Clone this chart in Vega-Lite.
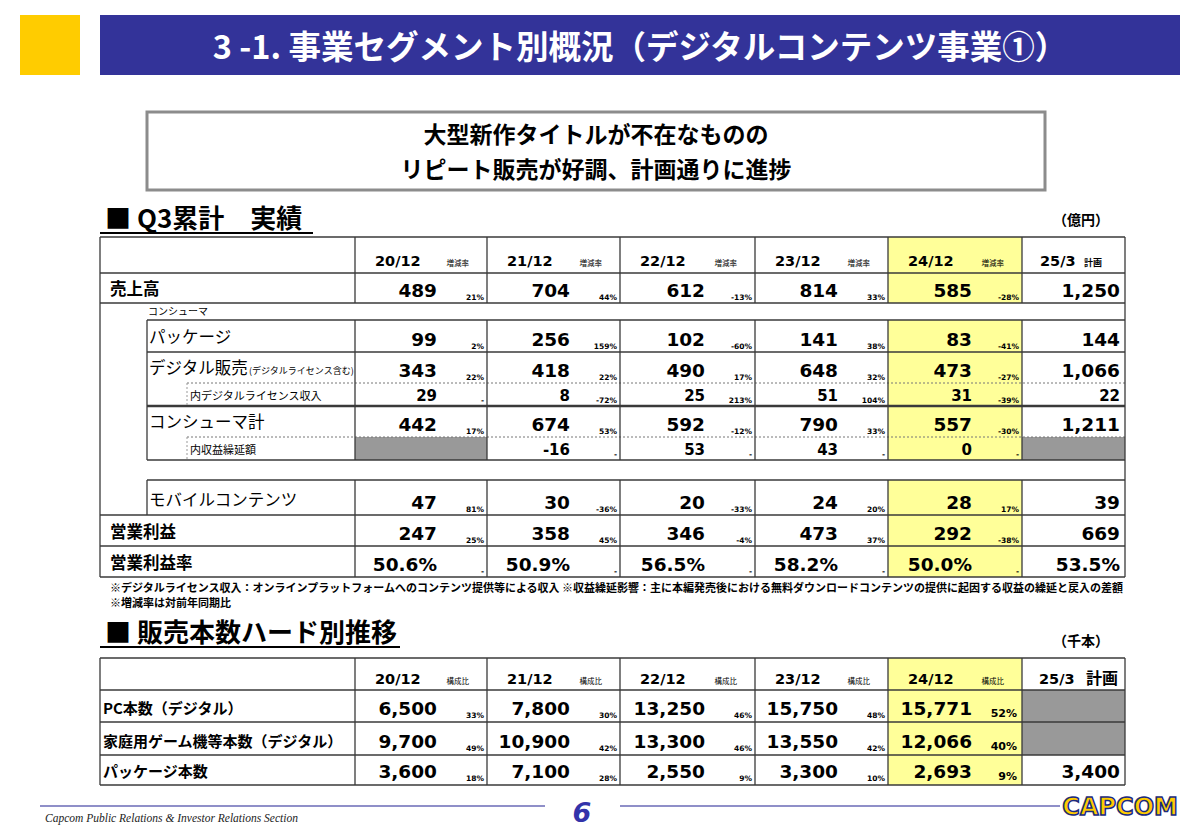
{
"$schema": "https://vega.github.io/schema/vega-lite/v6.json",
"width": 1200, "height": 831, "autosize": {"type": "none"}, "padding": 0,
"background": "white",
"config": {"view": {"stroke": null}, "locale": {"number": {"decimal": ".", "thousands": ",", "grouping": [3], "currency": ["$", ""], "minus": "-"}}},
"datasets": {
"cols": [
{"period": "20/12", "x0": 8, "x1": 10}, {"period": "21/12", "x0": 10, "x1": 12}, {"period": "22/12", "x0": 12, "x1": 13},
{"period": "23/12", "x0": 13, "x1": 14}, {"period": "24/12", "x0": 14, "x1": 15}, {"period": "25/3", "x0": 15, "x1": 18}],
"rows1": [
{"item": "売上高", "y0": 7, "y1": 8}, {"item": "コンシューマ", "y0": 8, "y1": 9}, {"item": "パッケージ", "y0": 9, "y1": 10},
{"item": "デジタル販売", "y0": 10, "y1": 11}, {"item": "内デジタルライセンス収入", "y0": 11, "y1": 12}, {"item": "コンシューマ計", "y0": 12, "y1": 13},
{"item": "内収益繰延額", "y0": 13, "y1": 14}, {"item": "モバイルコンテンツ", "y0": 15, "y1": 16}, {"item": "営業利益", "y0": 16, "y1": 17},
{"item": "営業利益率", "y0": 17, "y1": 18}],
"rows2": [
{"item": "PC本数（デジタル）", "y0": 21, "y1": 22}, {"item": "家庭用ゲーム機等本数（デジタル）", "y0": 22, "y1": 23}, {"item": "パッケージ本数", "y0": 23, "y1": 24}],
"vals1": [
{"item": "売上高", "period": "20/12", "value": 489, "chg": 0.21}, {"item": "売上高", "period": "21/12", "value": 704, "chg": 0.44},
{"item": "売上高", "period": "22/12", "value": 612, "chg": -0.13}, {"item": "売上高", "period": "23/12", "value": 814, "chg": 0.33},
{"item": "売上高", "period": "24/12", "value": 585, "chg": -0.28}, {"item": "売上高", "period": "25/3", "value": 1250},
{"item": "パッケージ", "period": "20/12", "value": 99, "chg": 0.02}, {"item": "パッケージ", "period": "21/12", "value": 256, "chg": 1.59},
{"item": "パッケージ", "period": "22/12", "value": 102, "chg": -0.60}, {"item": "パッケージ", "period": "23/12", "value": 141, "chg": 0.38},
{"item": "パッケージ", "period": "24/12", "value": 83, "chg": -0.41}, {"item": "パッケージ", "period": "25/3", "value": 144},
{"item": "デジタル販売", "period": "20/12", "value": 343, "chg": 0.22}, {"item": "デジタル販売", "period": "21/12", "value": 418, "chg": 0.22},
{"item": "デジタル販売", "period": "22/12", "value": 490, "chg": 0.17}, {"item": "デジタル販売", "period": "23/12", "value": 648, "chg": 0.32},
{"item": "デジタル販売", "period": "24/12", "value": 473, "chg": -0.27}, {"item": "デジタル販売", "period": "25/3", "value": 1066},
{"item": "内デジタルライセンス収入", "period": "20/12", "value": 29, "chg": null}, {"item": "内デジタルライセンス収入", "period": "21/12", "value": 8, "chg": -0.72},
{"item": "内デジタルライセンス収入", "period": "22/12", "value": 25, "chg": 2.13}, {"item": "内デジタルライセンス収入", "period": "23/12", "value": 51, "chg": 1.04},
{"item": "内デジタルライセンス収入", "period": "24/12", "value": 31, "chg": -0.39}, {"item": "内デジタルライセンス収入", "period": "25/3", "value": 22},
{"item": "コンシューマ計", "period": "20/12", "value": 442, "chg": 0.17}, {"item": "コンシューマ計", "period": "21/12", "value": 674, "chg": 0.53},
{"item": "コンシューマ計", "period": "22/12", "value": 592, "chg": -0.12}, {"item": "コンシューマ計", "period": "23/12", "value": 790, "chg": 0.33},
{"item": "コンシューマ計", "period": "24/12", "value": 557, "chg": -0.30}, {"item": "コンシューマ計", "period": "25/3", "value": 1211},
{"item": "内収益繰延額", "period": "21/12", "value": -16, "chg": null}, {"item": "内収益繰延額", "period": "22/12", "value": 53, "chg": null},
{"item": "内収益繰延額", "period": "23/12", "value": 43, "chg": null}, {"item": "内収益繰延額", "period": "24/12", "value": 0, "chg": null},
{"item": "モバイルコンテンツ", "period": "20/12", "value": 47, "chg": 0.81}, {"item": "モバイルコンテンツ", "period": "21/12", "value": 30, "chg": -0.36},
{"item": "モバイルコンテンツ", "period": "22/12", "value": 20, "chg": -0.33}, {"item": "モバイルコンテンツ", "period": "23/12", "value": 24, "chg": 0.20},
{"item": "モバイルコンテンツ", "period": "24/12", "value": 28, "chg": 0.17}, {"item": "モバイルコンテンツ", "period": "25/3", "value": 39},
{"item": "営業利益", "period": "20/12", "value": 247, "chg": 0.25}, {"item": "営業利益", "period": "21/12", "value": 358, "chg": 0.45},
{"item": "営業利益", "period": "22/12", "value": 346, "chg": -0.04}, {"item": "営業利益", "period": "23/12", "value": 473, "chg": 0.37},
{"item": "営業利益", "period": "24/12", "value": 292, "chg": -0.38}, {"item": "営業利益", "period": "25/3", "value": 669},
{"item": "営業利益率", "period": "20/12", "value": 0.506, "chg": null}, {"item": "営業利益率", "period": "21/12", "value": 0.509, "chg": null},
{"item": "営業利益率", "period": "22/12", "value": 0.565, "chg": null}, {"item": "営業利益率", "period": "23/12", "value": 0.582, "chg": null},
{"item": "営業利益率", "period": "24/12", "value": 0.500, "chg": null}, {"item": "営業利益率", "period": "25/3", "value": 0.535}],
"vals2": [
{"item": "PC本数（デジタル）", "period": "20/12", "value": 6500, "share": 0.33}, {"item": "PC本数（デジタル）", "period": "21/12", "value": 7800, "share": 0.30},
{"item": "PC本数（デジタル）", "period": "22/12", "value": 13250, "share": 0.46}, {"item": "PC本数（デジタル）", "period": "23/12", "value": 15750, "share": 0.48},
{"item": "PC本数（デジタル）", "period": "24/12", "value": 15771, "share": 0.52},
{"item": "家庭用ゲーム機等本数（デジタル）", "period": "20/12", "value": 9700, "share": 0.49}, {"item": "家庭用ゲーム機等本数（デジタル）", "period": "21/12", "value": 10900, "share": 0.42},
{"item": "家庭用ゲーム機等本数（デジタル）", "period": "22/12", "value": 13300, "share": 0.46}, {"item": "家庭用ゲーム機等本数（デジタル）", "period": "23/12", "value": 13550, "share": 0.42},
{"item": "家庭用ゲーム機等本数（デジタル）", "period": "24/12", "value": 12066, "share": 0.40},
{"item": "パッケージ本数", "period": "20/12", "value": 3600, "share": 0.18}, {"item": "パッケージ本数", "period": "21/12", "value": 7100, "share": 0.28},
{"item": "パッケージ本数", "period": "22/12", "value": 2550, "share": 0.09}, {"item": "パッケージ本数", "period": "23/12", "value": 3300, "share": 0.10},
{"item": "パッケージ本数", "period": "24/12", "value": 2693, "share": 0.09}, {"item": "パッケージ本数", "period": "25/3", "value": 3400}],
"hthin": [
{"x0": 4, "x1": 18, "y": 6}, {"x0": 4, "x1": 18, "y": 7}, {"x0": 4, "x1": 18, "y": 8}, {"x0": 5, "x1": 18, "y": 9}, {"x0": 5, "x1": 18, "y": 10},
{"x0": 5, "x1": 18, "y": 14}, {"x0": 5, "x1": 18, "y": 15}, {"x0": 4, "x1": 18, "y": 16}, {"x0": 4, "x1": 18, "y": 17}, {"x0": 4, "x1": 18, "y": 18},
{"x0": 4, "x1": 18, "y": 20}, {"x0": 4, "x1": 18, "y": 21}, {"x0": 4, "x1": 18, "y": 22}, {"x0": 4, "x1": 18, "y": 23}, {"x0": 4, "x1": 18, "y": 24}],
"vthin": [
{"x": 4, "y0": 6, "y1": 18}, {"x": 18, "y0": 6, "y1": 18}, {"x": 5, "y0": 9, "y1": 14}, {"x": 5, "y0": 15, "y1": 16},
{"x": 8, "y0": 6, "y1": 8}, {"x": 10, "y0": 6, "y1": 8}, {"x": 12, "y0": 6, "y1": 8}, {"x": 13, "y0": 6, "y1": 8}, {"x": 14, "y0": 6, "y1": 8}, {"x": 15, "y0": 6, "y1": 8},
{"x": 8, "y0": 9, "y1": 14}, {"x": 10, "y0": 9, "y1": 14}, {"x": 12, "y0": 9, "y1": 14}, {"x": 13, "y0": 9, "y1": 14}, {"x": 14, "y0": 9, "y1": 14}, {"x": 15, "y0": 9, "y1": 14},
{"x": 8, "y0": 15, "y1": 18}, {"x": 10, "y0": 15, "y1": 18}, {"x": 12, "y0": 15, "y1": 18}, {"x": 13, "y0": 15, "y1": 18}, {"x": 14, "y0": 15, "y1": 18}, {"x": 15, "y0": 15, "y1": 18},
{"x": 4, "y0": 20, "y1": 24}, {"x": 8, "y0": 20, "y1": 24}, {"x": 10, "y0": 20, "y1": 24}, {"x": 12, "y0": 20, "y1": 24}, {"x": 13, "y0": 20, "y1": 24},
{"x": 14, "y0": 20, "y1": 24}, {"x": 15, "y0": 20, "y1": 24}, {"x": 18, "y0": 20, "y1": 24}]
},
"layer": [
{"data": {"values": [{"x0": 1, "x1": 3, "y0": 1, "y1": 2}]}, "mark": {"type": "rect", "fill": "#FFCC00"},
 "encoding": {"x": {"field": "x0", "type": "quantitative", "scale": {"type": "linear", "domain": [0,1,2,3,4,5,6,7,8,9,10,11,12,13,14,15,16,17,18,19,20], "range": [0,20,40,80,100,147,187,313,355,400,487,545,620,755,888,1022,1045,1060,1125,1180,1200], "zero": false, "nice": false}, "axis": null},
  "x2": {"field": "x1"},
  "y": {"field": "y0", "type": "quantitative", "scale": {"type": "linear", "domain": [0,1,2,3,4,5,6,7,8,9,10,11,12,13,14,15,16,17,18,19,20,21,22,23,24,25,26], "range": [0,15,75,112,190,233,237,273,303,320,352,383,406,437,460,480,515,546,577,647,658,690,722,755,785,806,831], "zero": false, "nice": false}, "axis": null},
  "y2": {"field": "y1"}}},
{"data": {"values": [{"x0": 4, "x1": 19, "y0": 1, "y1": 2}]}, "mark": {"type": "rect", "fill": "#333399"},
 "encoding": {"x": {"field": "x0", "type": "quantitative"}, "x2": {"field": "x1"}, "y": {"field": "y0", "type": "quantitative"}, "y2": {"field": "y1"}}},
{"data": {"values": [{"t": "3 -1.  事業セグメント別概況（デジタルコンテンツ事業①）", "x": 12, "y": 2}]},
 "mark": {"type": "text", "font": "Noto Sans CJK JP", "fontWeight": "bold", "fontSize": 32.5, "color": "white", "align": "center", "baseline": "alphabetic", "dx": 20, "dy": -16},
 "encoding": {"x": {"field": "x", "type": "quantitative"}, "y": {"field": "y", "type": "quantitative"}, "text": {"field": "t"}}},
{"data": {"values": [{"x0": 5, "x1": 16, "y0": 3, "y1": 4}]}, "mark": {"type": "rect", "fill": "white", "stroke": "#8c8c8c", "strokeWidth": 3},
 "encoding": {"x": {"field": "x0", "type": "quantitative"}, "x2": {"field": "x1"}, "y": {"field": "y0", "type": "quantitative"}, "y2": {"field": "y1"}}},
{"data": {"values": [{"t": "大型新作タイトルが不在なものの", "x": 12, "y": 3}]},
 "mark": {"type": "text", "font": "Noto Sans CJK JP", "fontWeight": "bold", "fontSize": 23, "color": "black", "align": "center", "baseline": "alphabetic", "dx": -24, "dy": 31},
 "encoding": {"x": {"field": "x", "type": "quantitative"}, "y": {"field": "y", "type": "quantitative"}, "text": {"field": "t"}}},
{"data": {"values": [{"t": "リピート販売が好調、計画通りに進捗", "x": 12, "y": 4}]},
 "mark": {"type": "text", "font": "Noto Sans CJK JP", "fontWeight": "bold", "fontSize": 23, "color": "black", "align": "center", "baseline": "alphabetic", "dx": -24, "dy": -12},
 "encoding": {"x": {"field": "x", "type": "quantitative"}, "y": {"field": "y", "type": "quantitative"}, "text": {"field": "t"}}},
{"data": {"values": [{"t": "■ Q3累計　実績", "x": 4, "y": 5}]},
 "mark": {"type": "text", "font": "Noto Sans CJK JP", "fontWeight": "bold", "fontSize": 26, "color": "black", "align": "left", "baseline": "alphabetic", "dx": 5, "dy": -5},
 "encoding": {"x": {"field": "x", "type": "quantitative"}, "y": {"field": "y", "type": "quantitative"}, "text": {"field": "t"}}},
{"data": {"values": [{"x0": 4, "x1": 7, "y": 5}, {"x0": 4, "x1": 9, "y": 19}]}, "mark": {"type": "rule", "color": "black", "strokeWidth": 2},
 "encoding": {"x": {"field": "x0", "type": "quantitative"}, "x2": {"field": "x1"}, "y": {"field": "y", "type": "quantitative"}}},
{"data": {"values": [{"t": "（億円）", "x": 18, "y": 6}, {"t": "（千本）", "x": 18, "y": 20}]},
 "mark": {"type": "text", "font": "Noto Sans CJK JP", "fontWeight": "bold", "fontSize": 14, "color": "black", "align": "right", "baseline": "alphabetic", "dx": -16, "dy": -12},
 "encoding": {"x": {"field": "x", "type": "quantitative"}, "y": {"field": "y", "type": "quantitative"}, "text": {"field": "t"}}},
{"data": {"values": [{"x0": 14, "x1": 15, "y0": 6, "y1": 8}, {"x0": 14, "x1": 15, "y0": 9, "y1": 14}, {"x0": 14, "x1": 15, "y0": 15, "y1": 18}, {"x0": 14, "x1": 15, "y0": 20, "y1": 24}]},
 "mark": {"type": "rect", "fill": "#FFFF99"},
 "encoding": {"x": {"field": "x0", "type": "quantitative"}, "x2": {"field": "x1"}, "y": {"field": "y0", "type": "quantitative"}, "y2": {"field": "y1"}}},
{"data": {"values": [{"x0": 8, "x1": 10, "y0": 13, "y1": 14}, {"x0": 15, "x1": 18, "y0": 13, "y1": 14}, {"x0": 15, "x1": 18, "y0": 21, "y1": 23}]},
 "mark": {"type": "rect", "fill": "#999999"},
 "encoding": {"x": {"field": "x0", "type": "quantitative"}, "x2": {"field": "x1"}, "y": {"field": "y0", "type": "quantitative"}, "y2": {"field": "y1"}}},
{"data": {"name": "hthin"}, "mark": {"type": "rule", "color": "#3a3a3a", "strokeWidth": 1.3},
 "encoding": {"x": {"field": "x0", "type": "quantitative"}, "x2": {"field": "x1"}, "y": {"field": "y", "type": "quantitative"}}},
{"data": {"values": [{"x0": 5, "x1": 18, "y": 12}]}, "mark": {"type": "rule", "color": "#3a3a3a", "strokeWidth": 2.6},
 "encoding": {"x": {"field": "x0", "type": "quantitative"}, "x2": {"field": "x1"}, "y": {"field": "y", "type": "quantitative"}}},
{"data": {"values": [{"x0": 6, "x1": 18, "y": 11}, {"x0": 6, "x1": 18, "y": 13}]}, "mark": {"type": "rule", "color": "#777777", "strokeWidth": 1, "strokeDash": [2, 2]},
 "encoding": {"x": {"field": "x0", "type": "quantitative"}, "x2": {"field": "x1"}, "y": {"field": "y", "type": "quantitative"}}},
{"data": {"name": "vthin"}, "mark": {"type": "rule", "color": "#3a3a3a", "strokeWidth": 1.3},
 "encoding": {"x": {"field": "x", "type": "quantitative"}, "y": {"field": "y0", "type": "quantitative"}, "y2": {"field": "y1"}}},
{"data": {"values": [{"x": 6, "y0": 11, "y1": 12}, {"x": 6, "y0": 13, "y1": 14}]}, "mark": {"type": "rule", "color": "#999999", "strokeWidth": 1, "strokeDash": [2, 2]},
 "encoding": {"x": {"field": "x", "type": "quantitative"}, "y": {"field": "y0", "type": "quantitative"}, "y2": {"field": "y1"}}},

{"data": {"name": "cols"}, "transform": [{"filter": "datum.period != '25/3'"}],
 "mark": {"type": "text", "font": "DejaVu Sans", "fontWeight": "bold", "fontSize": 14.5, "color": "black", "align": "left", "baseline": "alphabetic", "dx": 20, "dy": -7},
 "encoding": {"x": {"field": "x0", "type": "quantitative"}, "y": {"datum": 7, "type": "quantitative"}, "text": {"field": "period"}}},
{"data": {"name": "cols"}, "transform": [{"filter": "datum.period != '25/3'"}],
 "mark": {"type": "text", "font": "DejaVu Sans", "fontWeight": "bold", "fontSize": 14.5, "color": "black", "align": "left", "baseline": "alphabetic", "dx": 20, "dy": -6},
 "encoding": {"x": {"field": "x0", "type": "quantitative"}, "y": {"datum": 21, "type": "quantitative"}, "text": {"field": "period"}}},
{"data": {"name": "cols"}, "transform": [{"filter": "datum.period != '25/3'"}],
 "mark": {"type": "text", "font": "Noto Sans CJK JP", "fontSize": 7.5, "color": "black", "align": "right", "baseline": "alphabetic", "dx": -18, "dy": -7},
 "encoding": {"x": {"field": "x1", "type": "quantitative"}, "y": {"datum": 7, "type": "quantitative"}, "text": {"value": "増減率"}}},
{"data": {"name": "cols"}, "transform": [{"filter": "datum.period != '25/3'"}],
 "mark": {"type": "text", "font": "Noto Sans CJK JP", "fontSize": 7.5, "color": "black", "align": "right", "baseline": "alphabetic", "dx": -18, "dy": -6},
 "encoding": {"x": {"field": "x1", "type": "quantitative"}, "y": {"datum": 21, "type": "quantitative"}, "text": {"value": "構成比"}}},
{"data": {"name": "cols"}, "transform": [{"filter": "datum.period == '25/3'"}],
 "mark": {"type": "text", "font": "DejaVu Sans", "fontWeight": "bold", "fontSize": 14.5, "color": "black", "align": "left", "baseline": "alphabetic", "dx": 18, "dy": -7},
 "encoding": {"x": {"field": "x0", "type": "quantitative"}, "y": {"datum": 7, "type": "quantitative"}, "text": {"field": "period"}}},
{"data": {"name": "cols"}, "transform": [{"filter": "datum.period == '25/3'"}],
 "mark": {"type": "text", "font": "Noto Sans CJK JP", "fontWeight": "bold", "fontSize": 9, "color": "black", "align": "left", "baseline": "alphabetic", "dx": 62, "dy": -7},
 "encoding": {"x": {"field": "x0", "type": "quantitative"}, "y": {"datum": 7, "type": "quantitative"}, "text": {"value": "計画"}}},
{"data": {"name": "cols"}, "transform": [{"filter": "datum.period == '25/3'"}],
 "mark": {"type": "text", "font": "DejaVu Sans", "fontWeight": "bold", "fontSize": 14.5, "color": "black", "align": "left", "baseline": "alphabetic", "dx": 17, "dy": -6},
 "encoding": {"x": {"field": "x0", "type": "quantitative"}, "y": {"datum": 21, "type": "quantitative"}, "text": {"field": "period"}}},
{"data": {"name": "cols"}, "transform": [{"filter": "datum.period == '25/3'"}],
 "mark": {"type": "text", "font": "Noto Sans CJK JP", "fontWeight": "bold", "fontSize": 16, "color": "black", "align": "left", "baseline": "alphabetic", "dx": 64, "dy": -6},
 "encoding": {"x": {"field": "x0", "type": "quantitative"}, "y": {"datum": 21, "type": "quantitative"}, "text": {"value": "計画"}}},

{"data": {"name": "rows1"}, "transform": [{"filter": {"field": "item", "oneOf": ["売上高", "営業利益", "営業利益率"]}}],
 "mark": {"type": "text", "font": "Noto Sans CJK JP", "fontWeight": "bold", "fontSize": 16.5, "color": "black", "align": "left", "baseline": "alphabetic", "dx": 10, "dy": -8},
 "encoding": {"x": {"datum": 4, "type": "quantitative"}, "y": {"field": "y1", "type": "quantitative"}, "text": {"field": "item"}}},
{"data": {"name": "rows1"}, "transform": [{"filter": {"field": "item", "oneOf": ["コンシューマ"]}}],
 "mark": {"type": "text", "font": "Noto Sans CJK JP", "fontSize": 10, "color": "black", "align": "left", "baseline": "alphabetic", "dx": 1, "dy": -5},
 "encoding": {"x": {"datum": 5, "type": "quantitative"}, "y": {"field": "y1", "type": "quantitative"}, "text": {"field": "item"}}},
{"data": {"name": "rows1"}, "transform": [{"filter": {"field": "item", "oneOf": ["パッケージ", "デジタル販売", "コンシューマ計", "モバイルコンテンツ"]}}],
 "mark": {"type": "text", "font": "Noto Sans CJK JP", "fontSize": 16.5, "color": "black", "align": "left", "baseline": "alphabetic", "dx": 2, "dy": -9},
 "encoding": {"x": {"datum": 5, "type": "quantitative"}, "y": {"field": "y1", "type": "quantitative"}, "text": {"field": "item"}}},
{"data": {"name": "rows1"}, "transform": [{"filter": {"field": "item", "oneOf": ["デジタル販売"]}}],
 "mark": {"type": "text", "font": "Noto Sans CJK JP", "fontSize": 9, "color": "black", "align": "left", "baseline": "alphabetic", "dx": 102, "dy": -9},
 "encoding": {"x": {"datum": 5, "type": "quantitative"}, "y": {"field": "y1", "type": "quantitative"}, "text": {"value": "(デジタルライセンス含む)"}}},
{"data": {"name": "rows1"}, "transform": [{"filter": {"field": "item", "oneOf": ["内デジタルライセンス収入", "内収益繰延額"]}}],
 "mark": {"type": "text", "font": "Noto Sans CJK JP", "fontSize": 11, "color": "black", "align": "left", "baseline": "alphabetic", "dx": 3, "dy": -6},
 "encoding": {"x": {"datum": 6, "type": "quantitative"}, "y": {"field": "y1", "type": "quantitative"}, "text": {"field": "item"}}},
{"data": {"name": "rows2"},
 "mark": {"type": "text", "font": "Noto Sans CJK JP", "fontWeight": "bold", "fontSize": 15, "color": "black", "align": "left", "baseline": "alphabetic", "dx": 3, "dy": -8},
 "encoding": {"x": {"datum": 4, "type": "quantitative"}, "y": {"field": "y1", "type": "quantitative"}, "text": {"field": "item"}}},

{"data": {"name": "vals1"},
 "transform": [{"lookup": "item", "from": {"data": {"name": "rows1"}, "key": "item", "fields": ["y1"]}}, {"lookup": "period", "from": {"data": {"name": "cols"}, "key": "period", "fields": ["x1"]}},
  {"filter": "datum.period != '25/3'"}, {"filter": {"not": {"field": "item", "oneOf": ["内デジタルライセンス収入", "内収益繰延額", "営業利益率"]}}}],
 "mark": {"type": "text", "font": "DejaVu Sans", "fontWeight": "bold", "fontSize": 18.5, "color": "black", "align": "right", "baseline": "alphabetic", "dx": -50, "dy": -6},
 "encoding": {"x": {"field": "x1", "type": "quantitative"}, "y": {"field": "y1", "type": "quantitative"}, "text": {"field": "value", "type": "quantitative", "format": ","}}},
{"data": {"name": "vals1"},
 "transform": [{"lookup": "item", "from": {"data": {"name": "rows1"}, "key": "item", "fields": ["y1"]}}, {"lookup": "period", "from": {"data": {"name": "cols"}, "key": "period", "fields": ["x1"]}},
  {"filter": "datum.period == '25/3'"}, {"filter": {"not": {"field": "item", "oneOf": ["内デジタルライセンス収入", "内収益繰延額", "営業利益率"]}}}],
 "mark": {"type": "text", "font": "DejaVu Sans", "fontWeight": "bold", "fontSize": 18.5, "color": "black", "align": "right", "baseline": "alphabetic", "dx": -5, "dy": -6},
 "encoding": {"x": {"field": "x1", "type": "quantitative"}, "y": {"field": "y1", "type": "quantitative"}, "text": {"field": "value", "type": "quantitative", "format": ","}}},
{"data": {"name": "vals1"},
 "transform": [{"lookup": "item", "from": {"data": {"name": "rows1"}, "key": "item", "fields": ["y1"]}}, {"lookup": "period", "from": {"data": {"name": "cols"}, "key": "period", "fields": ["x1"]}},
  {"filter": "datum.period != '25/3'"}, {"filter": {"field": "item", "oneOf": ["内デジタルライセンス収入", "内収益繰延額"]}}],
 "mark": {"type": "text", "font": "DejaVu Sans", "fontWeight": "bold", "fontSize": 15, "color": "black", "align": "right", "baseline": "alphabetic", "dx": -50, "dy": -5},
 "encoding": {"x": {"field": "x1", "type": "quantitative"}, "y": {"field": "y1", "type": "quantitative"}, "text": {"field": "value", "type": "quantitative", "format": ","}}},
{"data": {"name": "vals1"},
 "transform": [{"lookup": "item", "from": {"data": {"name": "rows1"}, "key": "item", "fields": ["y1"]}}, {"lookup": "period", "from": {"data": {"name": "cols"}, "key": "period", "fields": ["x1"]}},
  {"filter": "datum.period == '25/3'"}, {"filter": {"field": "item", "oneOf": ["内デジタルライセンス収入", "内収益繰延額"]}}],
 "mark": {"type": "text", "font": "DejaVu Sans", "fontWeight": "bold", "fontSize": 15, "color": "black", "align": "right", "baseline": "alphabetic", "dx": -5, "dy": -5},
 "encoding": {"x": {"field": "x1", "type": "quantitative"}, "y": {"field": "y1", "type": "quantitative"}, "text": {"field": "value", "type": "quantitative", "format": ","}}},
{"data": {"name": "vals1"},
 "transform": [{"lookup": "item", "from": {"data": {"name": "rows1"}, "key": "item", "fields": ["y1"]}}, {"lookup": "period", "from": {"data": {"name": "cols"}, "key": "period", "fields": ["x1"]}},
  {"filter": "datum.period != '25/3'"}, {"filter": {"field": "item", "equal": "営業利益率"}}],
 "mark": {"type": "text", "font": "DejaVu Sans", "fontWeight": "bold", "fontSize": 18.5, "color": "black", "align": "right", "baseline": "alphabetic", "dx": -50, "dy": -6},
 "encoding": {"x": {"field": "x1", "type": "quantitative"}, "y": {"field": "y1", "type": "quantitative"}, "text": {"field": "value", "type": "quantitative", "format": ".1%"}}},
{"data": {"name": "vals1"},
 "transform": [{"lookup": "item", "from": {"data": {"name": "rows1"}, "key": "item", "fields": ["y1"]}}, {"lookup": "period", "from": {"data": {"name": "cols"}, "key": "period", "fields": ["x1"]}},
  {"filter": "datum.period == '25/3'"}, {"filter": {"field": "item", "equal": "営業利益率"}}],
 "mark": {"type": "text", "font": "DejaVu Sans", "fontWeight": "bold", "fontSize": 18.5, "color": "black", "align": "right", "baseline": "alphabetic", "dx": -5, "dy": -6},
 "encoding": {"x": {"field": "x1", "type": "quantitative"}, "y": {"field": "y1", "type": "quantitative"}, "text": {"field": "value", "type": "quantitative", "format": ".1%"}}},
{"data": {"name": "vals1"},
 "transform": [{"lookup": "item", "from": {"data": {"name": "rows1"}, "key": "item", "fields": ["y1"]}}, {"lookup": "period", "from": {"data": {"name": "cols"}, "key": "period", "fields": ["x1"]}},
  {"filter": "datum.period != '25/3'"}],
 "mark": {"type": "text", "font": "DejaVu Sans", "fontWeight": "bold", "fontSize": 7.5, "color": "black", "align": "right", "baseline": "alphabetic", "dx": -3, "dy": -3},
 "encoding": {"x": {"field": "x1", "type": "quantitative"}, "y": {"field": "y1", "type": "quantitative"},
  "text": {"condition": {"test": "datum.chg == null", "value": "-"}, "field": "chg", "type": "quantitative", "format": ".0%"}}},

{"data": {"name": "vals2"},
 "transform": [{"lookup": "item", "from": {"data": {"name": "rows2"}, "key": "item", "fields": ["y1"]}}, {"lookup": "period", "from": {"data": {"name": "cols"}, "key": "period", "fields": ["x1"]}},
  {"filter": "datum.period != '25/3'"}],
 "mark": {"type": "text", "font": "DejaVu Sans", "fontWeight": "bold", "fontSize": 18.5, "color": "black", "align": "right", "baseline": "alphabetic", "dx": -50, "dy": -7},
 "encoding": {"x": {"field": "x1", "type": "quantitative"}, "y": {"field": "y1", "type": "quantitative"}, "text": {"field": "value", "type": "quantitative", "format": ","}}},
{"data": {"name": "vals2"},
 "transform": [{"lookup": "item", "from": {"data": {"name": "rows2"}, "key": "item", "fields": ["y1"]}}, {"lookup": "period", "from": {"data": {"name": "cols"}, "key": "period", "fields": ["x1"]}},
  {"filter": "datum.period == '25/3'"}],
 "mark": {"type": "text", "font": "DejaVu Sans", "fontWeight": "bold", "fontSize": 18.5, "color": "black", "align": "right", "baseline": "alphabetic", "dx": -5, "dy": -7},
 "encoding": {"x": {"field": "x1", "type": "quantitative"}, "y": {"field": "y1", "type": "quantitative"}, "text": {"field": "value", "type": "quantitative", "format": ","}}},
{"data": {"name": "vals2"},
 "transform": [{"lookup": "item", "from": {"data": {"name": "rows2"}, "key": "item", "fields": ["y1"]}}, {"lookup": "period", "from": {"data": {"name": "cols"}, "key": "period", "fields": ["x1"]}},
  {"filter": "datum.period != '25/3' && datum.period != '24/12'"}],
 "mark": {"type": "text", "font": "DejaVu Sans", "fontWeight": "bold", "fontSize": 7.5, "color": "black", "align": "right", "baseline": "alphabetic", "dx": -3, "dy": -4},
 "encoding": {"x": {"field": "x1", "type": "quantitative"}, "y": {"field": "y1", "type": "quantitative"}, "text": {"field": "share", "type": "quantitative", "format": ".0%"}}},
{"data": {"name": "vals2"},
 "transform": [{"lookup": "item", "from": {"data": {"name": "rows2"}, "key": "item", "fields": ["y1"]}}, {"lookup": "period", "from": {"data": {"name": "cols"}, "key": "period", "fields": ["x1"]}},
  {"filter": "datum.period == '24/12'"}],
 "mark": {"type": "text", "font": "DejaVu Sans", "fontWeight": "bold", "fontSize": 11, "color": "black", "align": "right", "baseline": "alphabetic", "dx": -5, "dy": -5},
 "encoding": {"x": {"field": "x1", "type": "quantitative"}, "y": {"field": "y1", "type": "quantitative"}, "text": {"field": "share", "type": "quantitative", "format": ".0%"}}},

{"data": {"values": [{"t": "※デジタルライセンス収入：オンラインプラットフォームへのコンテンツ提供等による収入 ※収益繰延影響：主に本編発売後における無料ダウンロードコンテンツの提供に起因する収益の繰延と戻入の差額", "x": 4, "y": 18}]},
 "mark": {"type": "text", "font": "Noto Sans CJK JP", "fontWeight": "bold", "fontSize": 11, "color": "black", "align": "left", "baseline": "alphabetic", "dx": 10, "dy": 15},
 "encoding": {"x": {"field": "x", "type": "quantitative"}, "y": {"field": "y", "type": "quantitative"}, "text": {"field": "t"}}},
{"data": {"values": [{"t": "※増減率は対前年同期比", "x": 4, "y": 18}]},
 "mark": {"type": "text", "font": "Noto Sans CJK JP", "fontWeight": "bold", "fontSize": 11, "color": "black", "align": "left", "baseline": "alphabetic", "dx": 10, "dy": 30},
 "encoding": {"x": {"field": "x", "type": "quantitative"}, "y": {"field": "y", "type": "quantitative"}, "text": {"field": "t"}}},
{"data": {"values": [{"t": "■ 販売本数ハード別推移", "x": 4, "y": 19}]},
 "mark": {"type": "text", "font": "Noto Sans CJK JP", "fontWeight": "bold", "fontSize": 26, "color": "black", "align": "left", "baseline": "alphabetic", "dx": 5, "dy": -5},
 "encoding": {"x": {"field": "x", "type": "quantitative"}, "y": {"field": "y", "type": "quantitative"}, "text": {"field": "t"}}},
{"data": {"values": [{"x0": 2, "x1": 11, "y": 25}, {"x0": 12, "x1": 17, "y": 25}]}, "mark": {"type": "rule", "color": "#8f8fc8", "strokeWidth": 2},
 "encoding": {"x": {"field": "x0", "type": "quantitative"}, "x2": {"field": "x1"}, "y": {"field": "y", "type": "quantitative"}}},
{"data": {"values": [{"t": "6", "x": 11, "y": 25}]},
 "mark": {"type": "text", "font": "DejaVu Sans", "fontWeight": "bold", "fontStyle": "italic", "fontSize": 27, "color": "#3333aa", "align": "center", "baseline": "alphabetic", "dx": 37, "dy": 16},
 "encoding": {"x": {"field": "x", "type": "quantitative"}, "y": {"field": "y", "type": "quantitative"}, "text": {"field": "t"}}},
{"data": {"values": [{"t": "Capcom Public Relations & Investor Relations Section", "x": 2, "y": 26}]},
 "mark": {"type": "text", "font": "Liberation Serif", "fontStyle": "italic", "fontSize": 11.5, "color": "#222222", "align": "left", "baseline": "alphabetic", "dx": 5, "dy": -9},
 "encoding": {"x": {"field": "x", "type": "quantitative"}, "y": {"field": "y", "type": "quantitative"}, "text": {"field": "t"}}},
{"data": {"values": [{"t": "CAPCOM", "x": 19, "y": 25}]},
 "mark": {"type": "text", "font": "DejaVu Sans", "fontWeight": "bold", "fontSize": 24, "fill": "#FFCC00", "stroke": "#1a2a80", "strokeWidth": 1.5, "align": "right", "baseline": "alphabetic", "dx": -2, "dy": 9},
 "encoding": {"x": {"field": "x", "type": "quantitative"}, "y": {"field": "y", "type": "quantitative"}, "text": {"field": "t"}}}
]
}
